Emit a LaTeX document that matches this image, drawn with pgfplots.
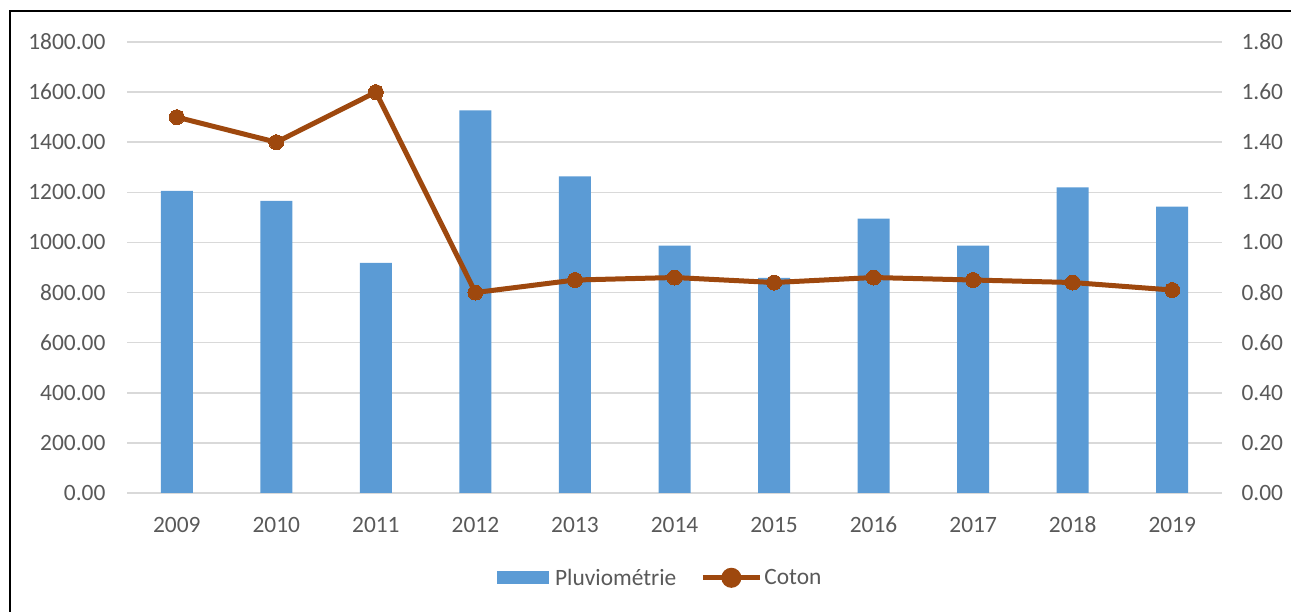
\documentclass[border=0pt]{standalone}
\usepackage{pgfplots}
\pgfplotsset{compat=1.18}
\usepackage{fontspec}
\setmainfont{Carlito}
\definecolor{barblue}{HTML}{5B9BD5}
\definecolor{cotbrown}{HTML}{9E480E}
\definecolor{gridgray}{HTML}{D9D9D9}
\definecolor{txtgray}{HTML}{595959}
\pgfplotsset{
  common/.style={
    scale only axis, width=1095bp, height=451bp,
    at={(127bp,119bp)}, anchor=south west,
    xmin=-0.5, xmax=10.5,
    ticklabel style={font=\fontsize{23.5}{28}\selectfont, text=txtgray},
    /pgf/number format/assume math mode=true,
    major tick length=0pt,
    axis line style={draw=none},
  }
}
\begin{document}
\begin{tikzpicture}[x=1bp,y=1bp]
\path[use as bounding box] (0,0) rectangle (1291,612);
\draw[black, line width=2bp] (9.5,0) -- (9.5,600.5) -- (1291,600.5);
\begin{axis}[common,
  ymin=0, ymax=1800, ytick={0,200,...,1800},
  yticklabel style={/tikz/xshift=-18bp, /pgf/number format/.cd, fixed, fixed zerofill, precision=2, 1000 sep={}},
  ymajorgrids, grid style={gridgray, line width=1.5bp},
  xtick={0,...,10},
  xticklabels={2009,2010,2011,2012,2013,2014,2015,2016,2017,2018,2019},
  xticklabel style={/tikz/yshift=-21bp, text height=15bp, text depth=0bp},
]
\addplot[ybar, bar width=32bp, fill=barblue, draw=none] coordinates {
 (0,1206) (1,1166) (2,918) (3,1527) (4,1264) (5,987) (6,859) (7,1095) (8,987) (9,1220) (10,1143)
};
\end{axis}
\begin{axis}[common,
  axis y line*=right, axis x line=none,
  ymin=0, ymax=1.8, ytick={0,0.2,...,1.8},
  yticklabel style={/tikz/xshift=16bp, /pgf/number format/.cd, fixed, fixed zerofill, precision=2},
  xtick=\empty,
  legend style={at={(0.487,-0.188)}, anchor=center, draw=none, fill=none,
    font=\fontsize{23.5}{28}\selectfont, text=txtgray,
    legend columns=2,
    /tikz/every even column/.append style={column sep=22bp}},
]
\addlegendimage{legend image code/.code={\fill[barblue, draw=none] (0bp,-6.5bp) rectangle (52bp,6.5bp); \path[draw=none, fill=none] (0bp,0bp) rectangle (56bp,0bp);}}
\addlegendentry{Pluviométrie}
\addplot[cotbrown, line width=5bp, mark=*, mark size=7.5bp,
  mark options={fill=cotbrown, draw=cotbrown, line width=0pt},
  legend image code/.code={\draw[cotbrown, line width=5bp] (0bp,0bp) -- (57bp,0bp); \fill[cotbrown] (28.5bp,0bp) circle (7.5bp); \path[draw=none, fill=none] (0bp,0bp) rectangle (59bp,0bp);}]
 coordinates {
 (0,1.50) (1,1.40) (2,1.60) (3,0.80) (4,0.85) (5,0.86) (6,0.84) (7,0.86) (8,0.85) (9,0.84) (10,0.81)
};
\addlegendentry{Coton}
\end{axis}
\end{tikzpicture}
\end{document}
